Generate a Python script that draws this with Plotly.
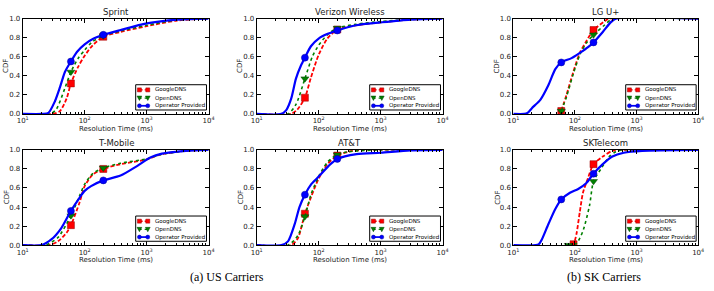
import plotly.graph_objects as go

# ---------------- data (resolution time in ms, CDF) ----------------
CARRIERS = ["Sprint", "Verizon Wireless", "LG U+", "T-Mobile", "AT&T", "SKTelecom"]
SERIES = ["GoogleDNS", "OpenDNS", "Operator Provided"]

# Sprint
SPRINT_GOOGLE_MS = [10, 31, 40, 51, 60, 78, 100, 135, 200, 380, 1000, 3100, 10000]
SPRINT_GOOGLE_CDF = [0, 0, 0.03, 0.16, 0.32, 0.49, 0.61, 0.72, 0.81, 0.86, 0.92, 0.98, 1.0]
SPRINT_OPEN_MS = [10, 28, 35, 48, 60, 78, 100, 135, 200, 380, 1000, 3100, 10000]
SPRINT_OPEN_CDF = [0, 0, 0.05, 0.27, 0.44, 0.58, 0.67, 0.76, 0.82, 0.87, 0.93, 0.985, 1.0]
SPRINT_OP_MS = [10, 21, 26, 33, 40, 48, 60, 75, 100, 140, 200, 380, 1000, 3100, 10000]
SPRINT_OP_CDF = [0, 0, 0.01, 0.13, 0.28, 0.44, 0.55, 0.65, 0.73, 0.79, 0.83, 0.88, 0.95, 0.99, 1.0]

# Verizon Wireless
VZW_GOOGLE_MS = [10, 36, 46, 60, 75, 100, 138, 200, 400, 1000, 3000, 10000]
VZW_GOOGLE_CDF = [0, 0, 0.05, 0.17, 0.38, 0.62, 0.79, 0.885, 0.93, 0.96, 0.99, 1.0]
VZW_OPEN_MS = [10, 32, 43, 60, 79, 100, 138, 200, 400, 1000, 3000, 10000]
VZW_OPEN_CDF = [0, 0, 0.1, 0.37, 0.6, 0.72, 0.83, 0.90, 0.94, 0.97, 0.99, 1.0]
VZW_OP_MS = [10, 25, 30, 36, 43, 52, 60, 75, 100, 140, 200, 400, 1000, 3000, 10000]
VZW_OP_CDF = [0, 0, 0.04, 0.16, 0.37, 0.51, 0.59, 0.71, 0.79, 0.84, 0.875, 0.93, 0.96, 0.99, 1.0]

# LG U+
LGU_GOOGLE_MS = [60, 73, 94, 120, 152, 200, 300, 360, 10000]
LGU_GOOGLE_CDF = [0.03, 0.2, 0.44, 0.64, 0.76, 0.88, 0.97, 1.0, 1.0]
LGU_OPEN_MS = [60, 73, 94, 120, 152, 200, 300, 380, 420, 10000]
LGU_OPEN_CDF = [0.03, 0.18, 0.42, 0.62, 0.74, 0.83, 0.93, 0.99, 1.0, 1.0]
LGU_OP_MS = [10, 15, 17, 20, 27.6, 37, 48, 60, 88, 120, 163, 200, 283, 380, 460, 10000]
LGU_OP_CDF = [0, 0, 0.01, 0.06, 0.15, 0.30, 0.47, 0.54, 0.585, 0.64, 0.70, 0.75, 0.86, 0.96, 1.0, 1.0]

# T-Mobile
TMO_GOOGLE_MS = [10, 26, 37, 51, 60, 83, 100, 135, 200, 380, 1000, 1660, 4300, 10000]
TMO_GOOGLE_CDF = [0, 0, 0.04, 0.13, 0.21, 0.45, 0.62, 0.74, 0.80, 0.85, 0.90, 0.95, 0.99, 1.0]
TMO_OPEN_MS = [10, 23, 37, 60, 83, 100, 135, 200, 380, 1000, 1660, 4300, 10000]
TMO_OPEN_CDF = [0, 0, 0.08, 0.31, 0.52, 0.64, 0.75, 0.81, 0.86, 0.905, 0.95, 0.99, 1.0]
TMO_OP_MS = [10, 20, 29, 42, 60, 83, 100, 127, 200, 380, 700, 1150, 1770, 4300, 10000]
TMO_OP_CDF = [0, 0, 0.06, 0.18, 0.36, 0.50, 0.57, 0.62, 0.68, 0.73, 0.83, 0.92, 0.96, 0.99, 1.0]

# AT&T
ATT_GOOGLE_MS = [10, 36, 46, 60, 75, 100, 138, 200, 300, 500, 10000]
ATT_GOOGLE_CDF = [0, 0, 0.07, 0.33, 0.5, 0.70, 0.85, 0.94, 0.98, 1.0, 1.0]
ATT_OPEN_MS = [10, 32, 46, 60, 75, 100, 138, 200, 300, 1000, 10000]
ATT_OPEN_CDF = [0, 0, 0.1, 0.30, 0.53, 0.72, 0.87, 0.95, 0.98, 1.0, 1.0]
ATT_OP_MS = [10, 25, 32, 41, 49, 60, 76, 100, 155, 200, 410, 1000, 3000, 10000]
ATT_OP_CDF = [0, 0, 0.04, 0.22, 0.40, 0.53, 0.64, 0.72, 0.85, 0.905, 0.955, 0.97, 0.995, 1.0]

# SKTelecom
SKT_GOOGLE_MS = [88, 95, 106, 120, 135, 162, 200, 283, 405, 590, 10000]
SKT_GOOGLE_CDF = [0, 0.01, 0.12, 0.35, 0.55, 0.70, 0.85, 0.93, 0.99, 1.0, 1.0]
SKT_OPEN_MS = [78, 83, 106, 135, 173, 200, 264, 360, 460, 590, 10000]
SKT_OPEN_CDF = [0, 0, 0.02, 0.15, 0.42, 0.67, 0.80, 0.93, 0.98, 1.0, 1.0]
SKT_OP_MS = [10, 23, 26, 29, 37, 48, 60, 83, 113, 152, 200, 283, 405, 620, 1230, 10000]
SKT_OP_CDF = [0, 0, 0.01, 0.06, 0.22, 0.38, 0.48, 0.55, 0.59, 0.65, 0.75, 0.85, 0.93, 0.97, 0.99, 1.0]

# x positions (ms) where markers are drawn on each curve
MARK_DEFAULT = [60, 200]
SKT_GOOGLE_MARK = [95, 200]
SKT_OPEN_MARK = [78, 200]

X_TICK_VALS = [10, 100, 1000, 10000]
X_TICK_TEXT = ["10<sup>1</sup>", "10<sup>2</sup>", "10<sup>3</sup>", "10<sup>4</sup>"]
Y_TICK_VALS = [0.0, 0.2, 0.4, 0.6, 0.8, 1.0]
Y_TICK_TEXT = ["0.0", "0.2", "0.4", "0.6", "0.8", "1.0"]

PANELS = [
    [(SPRINT_GOOGLE_MS, SPRINT_GOOGLE_CDF, MARK_DEFAULT), (SPRINT_OPEN_MS, SPRINT_OPEN_CDF, MARK_DEFAULT), (SPRINT_OP_MS, SPRINT_OP_CDF, MARK_DEFAULT)],
    [(VZW_GOOGLE_MS, VZW_GOOGLE_CDF, MARK_DEFAULT), (VZW_OPEN_MS, VZW_OPEN_CDF, MARK_DEFAULT), (VZW_OP_MS, VZW_OP_CDF, MARK_DEFAULT)],
    [(LGU_GOOGLE_MS, LGU_GOOGLE_CDF, MARK_DEFAULT), (LGU_OPEN_MS, LGU_OPEN_CDF, MARK_DEFAULT), (LGU_OP_MS, LGU_OP_CDF, MARK_DEFAULT)],
    [(TMO_GOOGLE_MS, TMO_GOOGLE_CDF, MARK_DEFAULT), (TMO_OPEN_MS, TMO_OPEN_CDF, MARK_DEFAULT), (TMO_OP_MS, TMO_OP_CDF, MARK_DEFAULT)],
    [(ATT_GOOGLE_MS, ATT_GOOGLE_CDF, MARK_DEFAULT), (ATT_OPEN_MS, ATT_OPEN_CDF, MARK_DEFAULT), (ATT_OP_MS, ATT_OP_CDF, MARK_DEFAULT)],
    [(SKT_GOOGLE_MS, SKT_GOOGLE_CDF, SKT_GOOGLE_MARK), (SKT_OPEN_MS, SKT_OPEN_CDF, SKT_OPEN_MARK), (SKT_OP_MS, SKT_OP_CDF, MARK_DEFAULT)],
]

# ---------------- styling ----------------
W, H = 714, 291
FONT = "DejaVu Sans"
COL_X = [(17, 206), (255, 444), (516, 704)]
ROW_Y = [(15, 113), (150, 248)]

STYLES = [
    dict(color="#ff0000", dash="4px,2px", width=1.8, symbol="square", msize=7, edge="#990000"),
    dict(color="#008000", dash="dot", width=1.6, symbol="triangle-down", msize=7, edge="#004000"),
    dict(color="#0000ff", dash="solid", width=2.2, symbol="circle", msize=7, edge="#000099"),
]

fig = go.Figure()
layout = dict(
    width=W, height=H, margin=dict(l=0, r=0, t=0, b=0),
    paper_bgcolor="white", plot_bgcolor="white",
    showlegend=False, font=dict(family=FONT, size=7, color="black"),
)
annotations = []
shapes = []

for i, panel in enumerate(PANELS):
    idx = i + 1
    r, c = divmod(i, 3)
    x0p, x1p = COL_X[c]
    y0p, y1p = ROW_Y[r]
    xs = "" if idx == 1 else str(idx)
    xname, yname = "x" + xs, "y" + xs
    layout["xaxis" + xs] = dict(
        domain=[x0p / W, x1p / W], anchor=yname, type="log", range=[1, 4],
        tickvals=X_TICK_VALS, ticktext=X_TICK_TEXT, ticks="inside", ticklen=4,
        tickcolor="black", showline=True, linecolor="black", linewidth=1, mirror="allticks",
        showgrid=False, zeroline=False, tickfont=dict(size=7, family=FONT, color="#222"),
        minor=dict(ticks="inside", ticklen=2, tickcolor="black", dtick="D1", showgrid=False),
    )
    layout["yaxis" + xs] = dict(
        domain=[1 - y1p / H, 1 - y0p / H], anchor=xname, range=[0, 1],
        tickvals=Y_TICK_VALS, ticktext=Y_TICK_TEXT, ticks="inside", ticklen=4,
        tickcolor="black", showline=True, linecolor="black", linewidth=1, mirror="allticks",
        showgrid=False, zeroline=False, tickfont=dict(size=7, family=FONT, color="#222"),
    )
    for (ms, cdf, marks), st in zip(panel, STYLES):
        fig.add_trace(go.Scatter(
            x=ms, y=cdf, mode="lines", xaxis=xname, yaxis=yname,
            line=dict(color=st["color"], dash=st["dash"], width=st["width"], shape="spline", smoothing=0.7),
            hoverinfo="skip",
        ))
        mx = [m for m in marks]
        my = [cdf[ms.index(m)] for m in marks]
        fig.add_trace(go.Scatter(
            x=mx, y=my, mode="markers", xaxis=xname, yaxis=yname,
            marker=dict(color=st["color"], symbol=st["symbol"], size=st["msize"],
                        line=dict(color=st["edge"], width=0.5)),
            hoverinfo="skip",
        ))
    xd, yd = xname + " domain", yname + " domain"
    # title
    annotations.append(dict(text=CARRIERS[i], xref=xd, yref=yd, x=0.5, y=1, xanchor="center",
                            yanchor="bottom", showarrow=False, font=dict(size=8.5, family=FONT, color="#222")))
    annotations.append(dict(text="Resolution Time (ms)", xref=xd, yref=yd, x=0.5, y=0,
                            xanchor="center", yanchor="middle", yshift=-15, showarrow=False,
                            font=dict(size=7, family=FONT, color="#222")))
    annotations.append(dict(text="CDF", xref=xd, yref=yd, x=0, y=0.5, xanchor="center",
                            yanchor="middle", xshift=-16, textangle=-90, showarrow=False,
                            font=dict(size=7, family=FONT, color="#222")))
    # legend box
    shapes.append(dict(type="rect", xref=xd, yref=yd, x0=0.608, x1=0.989, y0=0.041, y1=0.306,
                       fillcolor="white", line=dict(color="black", width=1), layer="above"))
    for k, (name, st, ly) in enumerate(zip(SERIES, STYLES, [0.252, 0.166, 0.085])):
        shapes.append(dict(type="line", xref=xd, yref=yd, x0=0.624, x1=0.677, y0=ly, y1=ly,
                           line=dict(color=st["color"], width=st["width"] * 0.8, dash=st["dash"]),
                           layer="above"))
        for lx in (0.628, 0.673):
            base = dict(xref=xd, yref=yd, xsizemode="pixel", ysizemode="pixel",
                        xanchor=lx, yanchor=ly, fillcolor=st["color"],
                        line=dict(color=st["edge"], width=0.5), layer="above")
            if st["symbol"] == "square":
                shapes.append(dict(type="rect", x0=-2, x1=2, y0=-2, y1=2, **base))
            elif st["symbol"] == "circle":
                shapes.append(dict(type="circle", x0=-2, x1=2, y0=-2, y1=2, **base))
            else:
                shapes.append(dict(type="path", path="M-2.4,2 L2.4,2 L0,-2.4 Z", **base))
        annotations.append(dict(text=name, xref=xd, yref=yd, x=0.700, y=ly, xanchor="left",
                                yanchor="middle", showarrow=False, font=dict(size=5.5, family=FONT)))

annotations.append(dict(text="(a) US Carriers", xref="paper", yref="paper", x=225 / W, y=1 - 281 / H,
                        xanchor="center", yanchor="middle", showarrow=False,
                        font=dict(size=12, family="Liberation Serif")))
annotations.append(dict(text="(b) SK Carriers", xref="paper", yref="paper", x=608 / W, y=1 - 281 / H,
                        xanchor="center", yanchor="middle", showarrow=False,
                        font=dict(size=12, family="Liberation Serif")))

layout["annotations"] = annotations
layout["shapes"] = shapes
fig.update_layout(**layout)
fig.write_html("out.html")
